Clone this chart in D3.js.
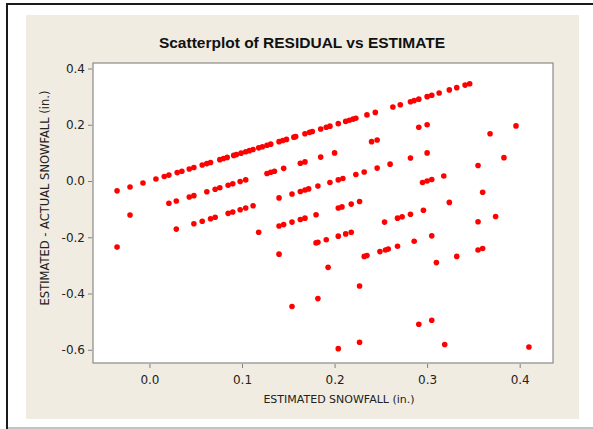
<!DOCTYPE html>
<html>
<head>
<meta charset="utf-8">
<script src="https://cdn.jsdelivr.net/npm/d3@7"></script>
<style>
  body { margin: 0; background: #fff; }
  .tick text { font-family: "DejaVu Sans", sans-serif; font-size: 12px; fill: #222; }
  .tick line { stroke: #808080; }
  .domain { display: none; }
  #title { font-family: "Liberation Sans", Arial, sans-serif; font-weight: bold; font-size: 15.5px; fill: #111; }
  .label { font-family: "DejaVu Sans", sans-serif; font-size: 11px; fill: #222; }
</style>
</head>
<body>
<div id="container"></div>
<script>
// values, grouped by the diagonal bands of points
var estimate = [
    -0.035, -0.021, -0.007, 0.007, 0.016, 0.021, 0.030, 0.035, 0.043, 0.048, 0.057, 0.062, 0.066, 0.076,
    0.080, 0.084, 0.091, 0.094, 0.099, 0.104, 0.108, 0.112, 0.118, 0.122, 0.127, 0.131, 0.140, 0.144,
    0.148, 0.156, 0.158, 0.168, 0.173, 0.176, 0.185, 0.191, 0.195, 0.204, 0.212, 0.216, 0.220, 0.223,
    0.235, 0.244, 0.263, 0.271, 0.282, 0.286, 0.291, 0.300, 0.305, 0.313, 0.324, 0.332, 0.341, 0.346,
    -0.021, 0.021, 0.029, 0.043, 0.048, 0.062, 0.071, 0.076, 0.085, 0.090, 0.098, 0.104, 0.127, 0.131,
    0.135, 0.145, 0.163, 0.168, 0.185, 0.200, 0.240, 0.246, 0.291, 0.300,
    -0.035, 0.029, 0.048, 0.057, 0.066, 0.071, 0.085, 0.090, 0.098, 0.104, 0.112, 0.140, 0.154, 0.163,
    0.168, 0.172, 0.182, 0.195, 0.204, 0.209, 0.223, 0.232, 0.246, 0.260, 0.282, 0.300, 0.368, 0.396,
    0.118, 0.140, 0.145, 0.154, 0.163, 0.168, 0.180, 0.204, 0.208, 0.218, 0.227, 0.295, 0.300, 0.305,
    0.318, 0.355, 0.383,
    0.140, 0.180, 0.182, 0.191, 0.204, 0.212, 0.218, 0.254, 0.268, 0.273, 0.282, 0.296, 0.324, 0.360,
    0.193, 0.232, 0.235, 0.249, 0.255, 0.258, 0.268, 0.286, 0.305, 0.355, 0.374,
    0.154, 0.182, 0.227, 0.310, 0.332, 0.355, 0.360,
    0.204, 0.227, 0.291, 0.305, 0.319, 0.410
];

var residual = [
    -0.035, -0.021, -0.007, 0.007, 0.016, 0.021, 0.030, 0.035, 0.043, 0.048, 0.057, 0.062, 0.066, 0.076,
    0.080, 0.084, 0.091, 0.094, 0.099, 0.104, 0.108, 0.112, 0.118, 0.122, 0.127, 0.131, 0.140, 0.144,
    0.148, 0.156, 0.158, 0.168, 0.173, 0.176, 0.185, 0.191, 0.195, 0.204, 0.212, 0.216, 0.220, 0.223,
    0.235, 0.244, 0.263, 0.271, 0.282, 0.286, 0.291, 0.300, 0.305, 0.313, 0.324, 0.332, 0.341, 0.346,
    -0.121, -0.079, -0.071, -0.057, -0.052, -0.038, -0.029, -0.024, -0.015, -0.010, -0.002, 0.004, 0.027, 0.031,
    0.035, 0.045, 0.063, 0.068, 0.085, 0.100, 0.140, 0.146, 0.191, 0.200,
    -0.235, -0.171, -0.152, -0.143, -0.134, -0.129, -0.115, -0.110, -0.102, -0.096, -0.088, -0.060, -0.046, -0.037,
    -0.032, -0.028, -0.018, -0.005, 0.004, 0.009, 0.023, 0.032, 0.046, 0.060, 0.082, 0.100, 0.168, 0.196,
    -0.182, -0.160, -0.155, -0.146, -0.137, -0.132, -0.120, -0.096, -0.092, -0.082, -0.073, -0.005, 0.000, 0.005,
    0.018, 0.055, 0.083,
    -0.260, -0.220, -0.218, -0.209, -0.196, -0.188, -0.182, -0.146, -0.132, -0.127, -0.118, -0.104, -0.076, -0.040,
    -0.307, -0.268, -0.265, -0.251, -0.245, -0.242, -0.232, -0.214, -0.195, -0.145, -0.126,
    -0.446, -0.418, -0.373, -0.290, -0.268, -0.245, -0.240,
    -0.596, -0.573, -0.509, -0.495, -0.581, -0.590
];

var xTicks = [0.0, 0.1, 0.2, 0.3, 0.4];
var yTicks = [-0.6, -0.4, -0.2, 0.0, 0.2, 0.4];

var title = "Scatterplot of RESIDUAL vs ESTIMATE";
var xLabel = "ESTIMATED SNOWFALL (in.)";
var yLabel = "ESTIMATED - ACTUAL SNOWFALL (in.)";

makeScatter();

function makeScatter () {

    var width = 593;
    var height = 429;
    var plot = {left: 93, top: 63, right: 553, bottom: 363};

    var data = estimate.map((d, i) => ({x: d, y: residual[i]}));

    // plain hyphen for negatives, like the original
    var fmt = (d) => d.toFixed(1);

    const svg = d3.select("#container")
                  .append("svg")
                  .attr("width", width)
                  .attr("height", height);

    // 1. page frame and beige panel
    svg.append("rect")
       .attr("x", 6).attr("y", 3)
       .attr("width", width - 6).attr("height", 2)
       .attr("fill", "#1a1a1a");
    svg.append("rect")
       .attr("x", 6).attr("y", 3)
       .attr("width", 2).attr("height", height - 3)
       .attr("fill", "#1a1a1a");
    svg.append("rect")
       .attr("x", 8).attr("y", 427)
       .attr("width", width - 8).attr("height", 2)
       .attr("fill", "#c4c4c4");
    svg.append("rect")
       .attr("x", 26).attr("y", 15)
       .attr("width", 553).attr("height", 404)
       .attr("fill", "#f0ece1");

    // 2. scales
    var xScale = d3.scaleLinear()
                   .domain([-0.061, 0.436])
                   .range([plot.left, plot.right]);

    var yScale = d3.scaleLinear()
                   .domain([-0.647, 0.4196])
                   .range([plot.bottom, plot.top]);

    // plot area
    svg.append("rect")
       .attr("x", plot.left).attr("y", plot.top)
       .attr("width", plot.right - plot.left)
       .attr("height", plot.bottom - plot.top)
       .attr("fill", "#fff")
       .attr("stroke", "#8a8a8a")
       .attr("stroke-width", 1.2);

    // 3. axes
    var xAxis = d3.axisBottom(xScale)
                  .tickValues(xTicks)
                  .tickSize(4)
                  .tickPadding(7)
                  .tickFormat(fmt);
    var yAxis = d3.axisLeft(yScale)
                  .tickValues(yTicks)
                  .tickSize(4)
                  .tickPadding(3)
                  .tickFormat(fmt);

    svg.append("g")
       .attr("transform", "translate(0," + (plot.bottom + 1) + ")")
       .call(xAxis);

    svg.append("g")
       .attr("transform", "translate(" + (plot.left - 1) + ",0)")
       .call(yAxis);

    // 4. points
    svg.selectAll("circle")
       .data(data)
       .enter()
       .append("circle")
       .attr("cx", (d) => xScale(d.x))
       .attr("cy", (d) => yScale(d.y))
       .attr("r", 2.8)
       .attr("fill", "#ff0000");

    // 5. title and labels
    svg.append("text")
       .attr("id", "title")
       .attr("x", 302)
       .attr("y", 48)
       .attr("text-anchor", "middle")
       .text(title);

    svg.append("text")
       .attr("class", "label")
       .attr("x", 339)
       .attr("y", 403)
       .attr("text-anchor", "middle")
       .text(xLabel);

    svg.append("text")
       .attr("class", "label")
       .attr("transform", "translate(49,198) rotate(-90)")
       .attr("text-anchor", "middle")
       .style("font-size", "11.5px")
       .text(yLabel);
}
</script>
</body>
</html>
